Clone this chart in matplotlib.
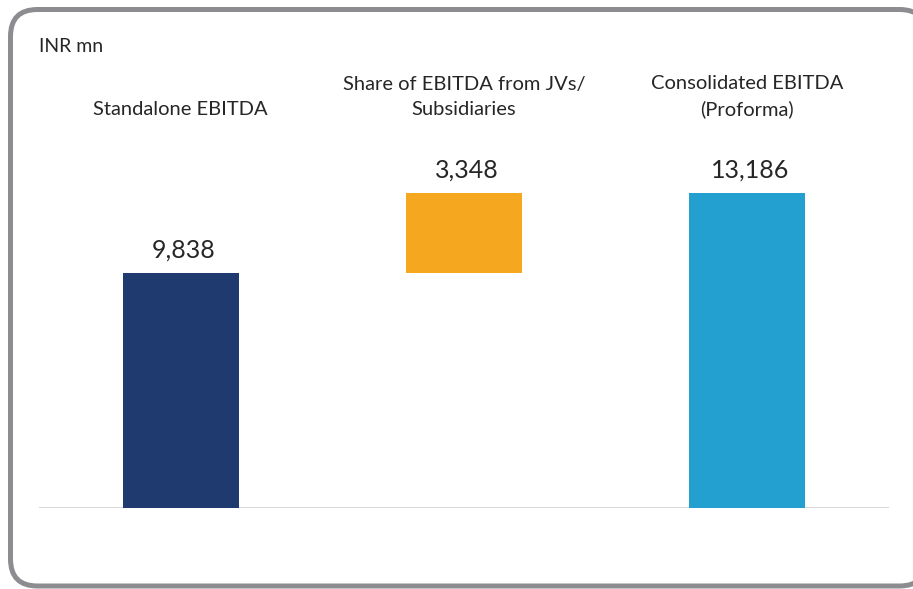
import matplotlib
matplotlib.use("Agg")
import matplotlib.pyplot as plt
from matplotlib.patches import FancyBboxPatch
from matplotlib import transforms

categories = ["Standalone EBITDA", "Share of EBITDA from JVs/\nSubsidiaries", "Consolidated EBITDA\n(Proforma)"]
values = [9838, 3348, 13186]
bottoms = [0, 9838, 0]
colors = ["#1F3A6E", "#F5A720", "#23A0CF"]
unit = "INR mn"

plt.rcParams["font.family"] = ["Lato", "DejaVu Sans"]

W, H = 913, 589
fig = plt.figure(figsize=(W / 100, H / 100), dpi=100)

# rounded frame in pixel coords, right side runs past the edge
frame = FancyBboxPatch((10.5, 3), 916, 576.5, boxstyle="round,pad=0,rounding_size=27",
                       transform=None, facecolor="white", edgecolor="#8C8C91",
                       linewidth=3.6, zorder=-5)
fig.patches.append(frame)

ax = fig.add_axes([39 / W, 81 / H, 850 / W, 334.5 / H])
ax.set_zorder(2)
ax.set_facecolor("none")
x = range(len(values))
ax.bar(x, values, bottom=bottoms, width=0.41, color=colors, zorder=2)
ax.set_xlim(-0.5, 2.5)
ax.set_ylim(0, 14000)
ax.axhline(0, color="#D9D9D9", linewidth=1.5, zorder=1)
for s in ax.spines.values():
    s.set_visible(False)
ax.set_xticks([])
ax.set_yticks([])

for i, v in enumerate(values):
    ax.annotate(f"{v:,}", (i + 0.01, bottoms[i] + v), xytext=(0, 11), textcoords="offset points",
                ha="center", va="baseline", fontsize=18, color="#262626")

trans = transforms.blended_transform_factory(ax.transData, fig.transFigure)
for i, c in enumerate(categories):
    ax.text(i, (H - 118) / H, c, transform=trans, ha="center", va="bottom",
            fontsize=14.5, color="#262626", linespacing=1.55, clip_on=False)

fig.text(39 / W, (H - 52) / H, unit, ha="left", va="baseline", fontsize=14, color="#262626")

fig.savefig("out.png", dpi=100)
